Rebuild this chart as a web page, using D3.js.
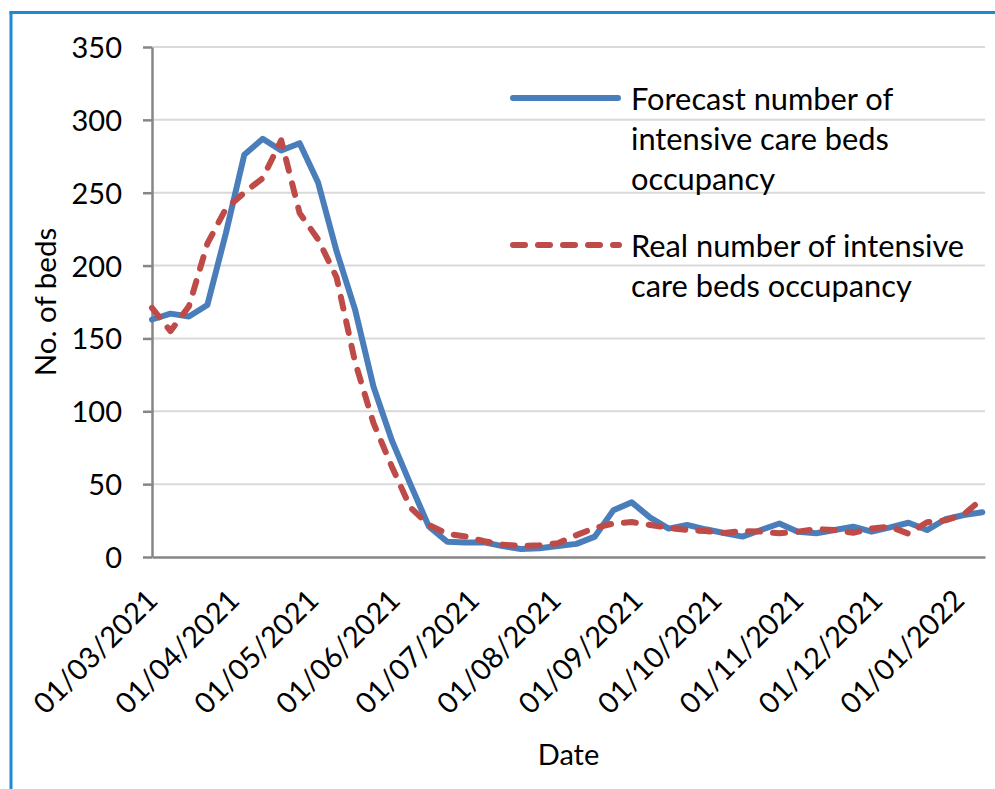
<!DOCTYPE html>
<html>
<head>
<meta charset="utf-8">
<script src="https://cdn.jsdelivr.net/npm/d3@7"></script>
<style>
  html, body { margin: 0; padding: 0; background: #fff; }
  svg { display: block; }
  text { font-family: Lato, "Open Sans", sans-serif; fill: #000; }
</style>
</head>
<body>
<svg id="chart" width="995" height="789"></svg>
<script>
// ---- data ----
const dates = [
  "2021-03-01","2021-03-08","2021-03-15","2021-03-22","2021-03-29",
  "2021-04-05","2021-04-12","2021-04-19","2021-04-26",
  "2021-05-03","2021-05-10","2021-05-17","2021-05-24","2021-05-31",
  "2021-06-07","2021-06-14","2021-06-21","2021-06-28",
  "2021-07-05","2021-07-12","2021-07-19","2021-07-26",
  "2021-08-02","2021-08-09","2021-08-16","2021-08-23","2021-08-30",
  "2021-09-06","2021-09-13","2021-09-20","2021-09-27",
  "2021-10-04","2021-10-11","2021-10-18","2021-10-25",
  "2021-11-01","2021-11-08","2021-11-15","2021-11-22","2021-11-29",
  "2021-12-06","2021-12-13","2021-12-20","2021-12-27",
  "2022-01-03","2022-01-10"
];
const forecast = [
  163,167,165,173,222,
  276,287,279,284,
  257,210,170,117,80,
  50,21,10.5,10,
  10,7.5,5.5,6,
  7.5,9,14,32,37.5,
  27,19.5,22,19,
  16.5,14,18.5,23,
  17.4,16.3,18.5,20.8,17.4,
  20.3,23.5,18.5,25.9,
  28.8,30.7
];
const real = [
  171,155,172,215,239,
  250,260,286,236,
  218,192,134,92,62,
  34,22,16,14,
  10.8,8.5,7.5,8,
  9.5,15,20,23,24,
  22,20,18.5,17.8,
  16.5,17.8,17.4,16.3,
  17.4,19.2,18.5,16.6,19.6,
  20.8,16,23.8,25.2,
  29.3,40
];
const yTicks = [0, 50, 100, 150, 200, 250, 300, 350];
const xTickLabels = ["2021-03-01","2021-04-01","2021-05-01","2021-06-01","2021-07-01","2021-08-01",
  "2021-09-01","2021-10-01","2021-11-01","2021-12-01","2022-01-01"];
const xDomain = ["2021-03-01", "2022-01-11"];
const seriesNames = [
  ["Forecast number of", "intensive care beds", "occupancy"],
  ["Real number of intensive", "care beds occupancy"]
];
const yTitle = "No. of beds";
const xTitle = "Date";

// ---- layout ----
const parse = d3.utcParse("%Y-%m-%d");
const fmt = d3.utcFormat("%d/%m/%Y");
const L = 152, R = 985, T = 47, B = 557;
const FS = 29;
const LFS = 30.8;

const svg = d3.select("#chart");

// frame
svg.append("line").attr("x1", 11).attr("x2", 11).attr("y1", 11).attr("y2", 789)
  .attr("stroke", "#1f8ad2").attr("stroke-width", 3);
svg.append("line").attr("x1", 9.5).attr("x2", 995).attr("y1", 12.5).attr("y2", 12.5)
  .attr("stroke", "#1f8ad2").attr("stroke-width", 3);

const x = d3.scaleUtc().domain(xDomain.map(parse)).range([L, R]);
const y = d3.scaleLinear().domain([0, 350]).range([B, T]);

// gridlines
svg.append("g").selectAll("line").data(yTicks.filter(v => v > 0)).join("line")
  .attr("x1", L).attr("x2", R).attr("y1", d => y(d)).attr("y2", d => y(d))
  .attr("stroke", "#d9d9d9").attr("stroke-width", 2);

// y axis
const yAxis = svg.append("g").attr("transform", `translate(${L},0)`)
  .call(d3.axisLeft(y).tickValues(yTicks).tickSize(9).tickPadding(21).tickSizeOuter(0));
yAxis.select(".domain").attr("stroke", "#868686").attr("stroke-width", 2.5);
yAxis.selectAll(".tick line").attr("stroke", "#868686").attr("stroke-width", 2.5);
yAxis.selectAll(".tick text").attr("font-size", FS).attr("font-family", "Lato").attr("fill", "#000")
  .attr("dy", "0.36em");

// x axis
const xAxis = svg.append("g").attr("transform", `translate(0,${B})`)
  .call(d3.axisBottom(x).tickValues(xTickLabels.map(parse)).tickFormat(fmt).tickSize(0).tickSizeOuter(0));
xAxis.select(".domain").attr("stroke", "#868686").attr("stroke-width", 2.5);
xAxis.selectAll(".tick text")
  .attr("font-size", FS).attr("font-family", "Lato").attr("fill", "#000")
  .attr("text-anchor", "end")
  .attr("y", 0).attr("dy", 0)
  .attr("transform", "translate(7,45) rotate(-45)");

// lines
const line = d3.line().x((d, i) => x(parse(dates[i]))).y(d => y(d));
svg.append("path").datum(forecast).attr("d", line)
  .attr("fill", "none").attr("stroke", "#4a7ebb").attr("stroke-width", 6)
  .attr("stroke-linejoin", "round").attr("stroke-linecap", "round");
svg.append("path").datum(real).attr("d", line)
  .attr("fill", "none").attr("stroke", "#be4b48").attr("stroke-width", 6)
  .attr("stroke-dasharray", "12,13").attr("stroke-linecap", "round").attr("stroke-linejoin", "round");

// legend
const lg = svg.append("g");
lg.append("line").attr("x1", 513).attr("x2", 618).attr("y1", 98).attr("y2", 98)
  .attr("stroke", "#4a7ebb").attr("stroke-width", 6).attr("stroke-linecap", "round");
lg.append("line").attr("x1", 513).attr("x2", 619).attr("y1", 245).attr("y2", 245)
  .attr("stroke", "#be4b48").attr("stroke-width", 6).attr("stroke-linecap", "round")
  .attr("stroke-dasharray", "12,13");
const starts = [98, 245];
seriesNames.forEach((lines, k) => {
  const t = lg.append("text").attr("x", 631).attr("y", starts[k]).attr("font-size", LFS)
    .attr("dominant-baseline", "central");
  lines.forEach((s, j) => t.append("tspan").attr("x", 631).attr("y", starts[k] + j * 40).text(s));
});

// titles
svg.append("text").attr("transform", "translate(44,302) rotate(-90)")
  .attr("text-anchor", "middle").attr("dominant-baseline", "central").attr("font-size", 29.5).text(yTitle);
svg.append("text").attr("x", (L + R) / 2).attr("y", 765).attr("text-anchor", "middle")
  .attr("font-size", FS).text(xTitle);
</script>
</body>
</html>
